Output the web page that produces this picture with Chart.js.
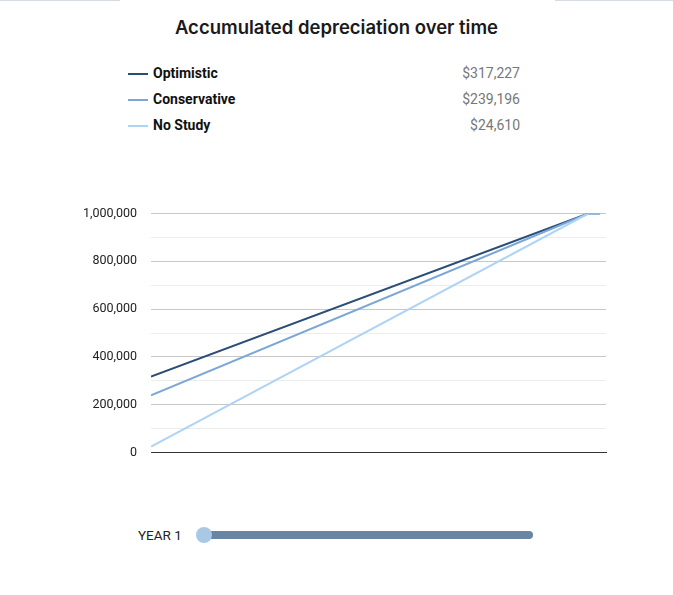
<!DOCTYPE html>
<html><head><meta charset="utf-8">
<script src="https://cdn.jsdelivr.net/npm/chart.js@4/dist/chart.umd.min.js"></script>
<style>
  body { margin:0; width:673px; height:595px; background:#fff; position:relative; font-family:Roboto, sans-serif; overflow:hidden; }
  .tab { position:absolute; top:0; height:1px; background:#d6dbe3; }
  h1 { position:absolute; top:16px; left:0; width:673px; margin:0; text-align:center; font:600 18.5px Inter, sans-serif; color:#1a1a1a; }
  .leg { position:absolute; left:128px; width:392px; height:20px; font-size:14px; }
  .leg i { position:absolute; left:0; top:9px; width:20px; height:2px; }
  .leg b { position:absolute; left:25px; top:1px; color:#111; }
  .leg span { position:absolute; right:0; top:1px; color:#777; font-size:14px; }
  #wrap { position:absolute; left:0; top:192px; width:615px; height:282px; }
  .yr { position:absolute; left:138px; top:527px; font-size:13.5px; color:#222; }
  .track { position:absolute; left:204px; top:531px; width:329px; height:8px; border-radius:4px; background:#6a84a3; }
  .knob { position:absolute; left:196px; top:527px; width:16px; height:16px; border-radius:50%; background:#a9c8e6; }
</style></head>
<body>
<div class="tab" style="left:0;width:120px"></div>
<div class="tab" style="left:555px;width:118px"></div>
<h1>Accumulated depreciation over time</h1>
<div id="legend"></div>
<div id="wrap"><canvas id="c"></canvas></div>
<div class="yr">YEAR 1</div>
<div class="track"></div>
<div class="knob"></div>
<script>
const seriesNames = ['Optimistic', 'Conservative', 'No Study'];
const seriesColors = ['#2b4e78', '#7ba7d6', '#aed4f5'];
const years = [1, 38, 39];
const optimistic = [317227, 1000000, 1000000];
const conservative = [239196, 1000000, 1000000];
const noStudy = [24610, 1000000, 1000000];
const seriesData = [optimistic, conservative, noStudy];

// legend with first-year values
const legend = document.getElementById('legend');
seriesNames.forEach((name, i) => {
  const row = document.createElement('div');
  row.className = 'leg';
  row.style.top = (64 + i * 26) + 'px';
  row.innerHTML = `<i style="background:${seriesColors[i]}"></i><b>${name}</b><span>$${seriesData[i][0].toLocaleString('en-US')}</span>`;
  legend.appendChild(row);
});

new Chart(document.getElementById('c'), {
  type: 'line',
  data: {
    datasets: seriesNames.map((name, i) => ({
      label: name,
      data: years.map((y, j) => ({ x: y, y: seriesData[i][j] })),
      borderColor: seriesColors[i],
      borderWidth: 2,
      pointRadius: 0,
      tension: 0,
    })).reverse(),
  },
  options: {
    responsive: true,
    maintainAspectRatio: false,
    animation: false,
    layout: { padding: { top: 8, right: 9, bottom: 0 } },
    plugins: { legend: { display: false }, tooltip: { enabled: false } },
    scales: {
      x: {
        type: 'linear', min: 1, max: 39.5,
        ticks: { display: false },
        grid: { drawOnChartArea: false, drawTicks: false },
        border: { color: '#333', width: 1 },
      },
      y: {
        min: 0, max: 1000000,
        afterFit: s => { s.width = 151; },
        ticks: {
          stepSize: 100000, color: '#222', font: { family: 'Roboto', size: 12.5 }, padding: 14,
          callback: v => v % 200000 === 0 ? v.toLocaleString('en-US') : '',
        },
        grid: {
          drawTicks: false,
          color: ctx => ctx.tick && ctx.tick.value % 200000 === 0 ? '#c8c8c8' : '#ececec',
        },
        border: { display: false },
      },
    },
  },
});
</script>
</body></html>
